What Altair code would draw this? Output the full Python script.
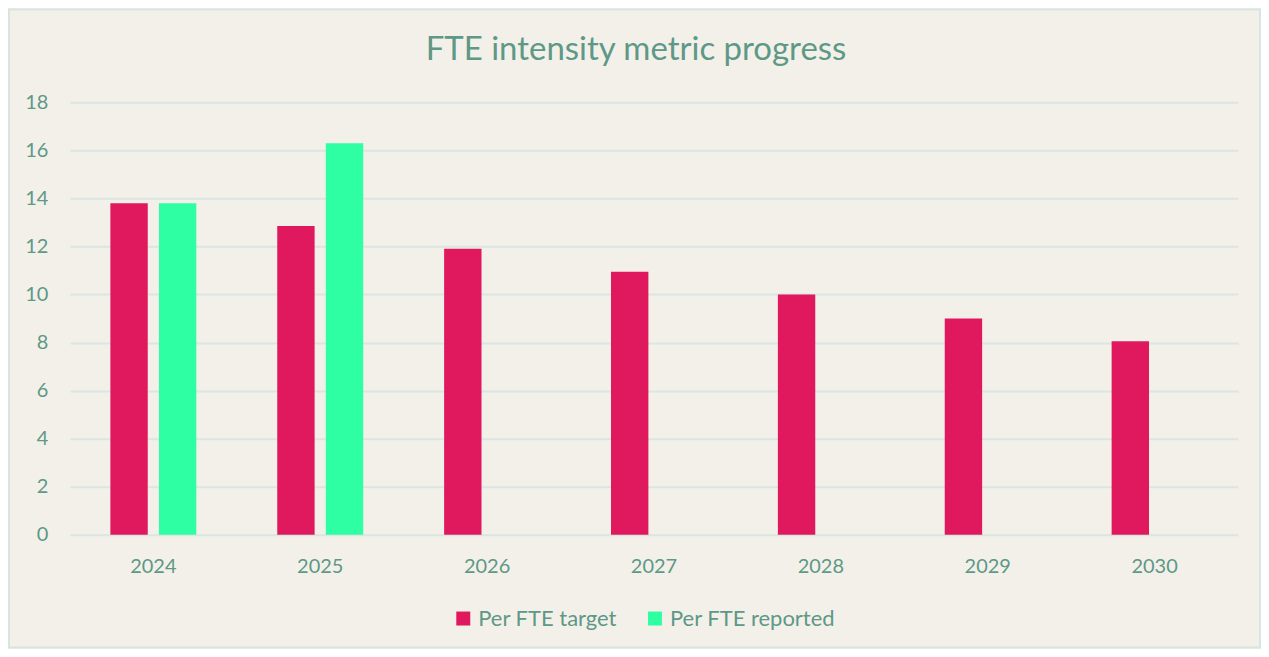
import altair as alt
import pandas as pd

years = ["2024", "2025", "2026", "2027", "2028", "2029", "2030"]
target = [13.8, 12.85, 11.9, 10.95, 10.0, 9.0, 8.05]
reported_years = ["2024", "2025"]
reported = [13.8, 16.3]
series_names = ["Per FTE target", "Per FTE reported"]
series_colors = ["#E0195F", "#2EFFA2"]
y_ticks = [0, 2, 4, 6, 8, 10, 12, 14, 16, 18]
title_text = "FTE intensity metric progress"

rows = [{"year": y, "series": series_names[0], "value": v} for y, v in zip(years, target)]
rows += [{"year": y, "series": series_names[1], "value": v} for y, v in zip(reported_years, reported)]
df = pd.DataFrame(rows)

TXT = "#5E9886"
FONT = "Lato"
W, H = 1170, 433

bars = alt.Chart(df).mark_bar(strokeWidth=0).encode(
    x=alt.X("year:N", sort=years, title=None,
            scale=alt.Scale(paddingInner=0.485, paddingOuter=0.2425),
            axis=alt.Axis(labelAngle=0, labelFontSize=20, labelColor=TXT, labelFont=FONT,
                          labelPadding=22, ticks=False, domain=False, grid=False)),
    xOffset=alt.XOffset("series:N", sort=series_names,
                        scale=alt.Scale(paddingInner=0.23, paddingOuter=0)),
    y=alt.Y("value:Q", title=None,
            scale=alt.Scale(domain=[0, 18], nice=False),
            axis=alt.Axis(values=y_ticks, labelFontSize=20, labelColor=TXT, labelFont=FONT,
                          labelPadding=22, ticks=False, domain=False,
                          gridColor="#D9E6E1", gridWidth=2)),
    color=alt.Color("series:N", sort=series_names,
                    scale=alt.Scale(domain=series_names, range=series_colors),
                    legend=alt.Legend(title=None, orient="none", legendX=383, legendY=506,
                                      direction="horizontal", symbolType="square",
                                      symbolSize=196, symbolStrokeWidth=0,
                                      labelFontSize=22, labelColor=TXT, labelFont=FONT,
                                      labelLimit=400, labelOffset=4, columnPadding=27)),
)

frame = alt.Chart(pd.DataFrame({"a": [0]})).mark_rect(
    fill=None, stroke="#D6E5DF", strokeWidth=2
).encode(
    x=alt.value(-61), x2=alt.value(1192), y=alt.value(-93), y2=alt.value(546)
)

title = alt.Chart(pd.DataFrame({"t": [title_text]})).mark_text(
    fontSize=33, font=FONT, color=TXT, align="center", baseline="middle"
).encode(
    text="t:N", x=alt.value(567), y=alt.value(-52)
)

chart = alt.layer(frame, bars, title).properties(
    width=W, height=H, padding=0, background="#F3F0EA"
).configure_view(stroke=None)

chart.save("out.html", embed_options={"renderer": "svg", "actions": False})
